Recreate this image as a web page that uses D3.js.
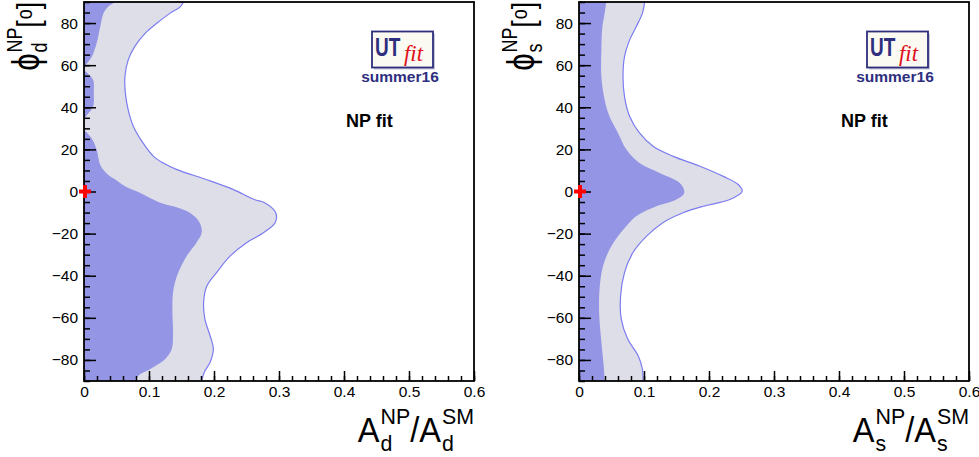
<!DOCTYPE html>
<html>
<head>
<meta charset="utf-8">
<script src="https://cdn.jsdelivr.net/npm/d3@7"></script>
<style>
body { margin: 0; background: #fff; }
text { font-family: "Liberation Sans", Arial, Helvetica, sans-serif; }
</style>
</head>
<body>
<div id="chart"></div>
<script>
// boundaries of the 68% (dark) and 95% (light) regions
// phi in degrees, A = A^NP / A^SM
const phiDarkD = [90, 87.7, 84.6, 78.3, 70.4, 64, 60.1, 58, 56, 53, 46.7, 40.4, 36.4, 34, 29.3, 27.8, 24.6, 19.9, 12, 7.2, 5.7, 2.5, -0.6, -5.3, -7, -10.1, -14.8, -19.6, -24.3, -30.6, -40.1, -48, -57.4, -66.9, -74.8, -79.5, -84.3, -87.4, -90];
const aDarkD = [0.048, 0.037, 0.030, 0.025, 0.0195, 0.012, 0.003, 0, 0.006, 0.014, 0.015, 0.014, 0.005, 0, 0, 0.005, 0.013, 0.0195, 0.026, 0.04, 0.048, 0.063, 0.086, 0.117, 0.137, 0.163, 0.178, 0.181, 0.173, 0.158, 0.143, 0.137, 0.136, 0.137, 0.135, 0.125, 0.102, 0.084, 0.08];

const phiLightD = [90, 87.7, 84.6, 79.9, 75.1, 68.8, 62.5, 54.6, 46.7, 38.8, 30.9, 23, 16.7, 13.5, 10.4, 5.6, 0.9, -3.8, -5.3, -10.1, -14.8, -19.6, -24.3, -30.6, -38.5, -44.9, -52.7, -60.6, -68.5, -74.8, -81.1, -85.8, -90];
const aLightD = [0.153, 0.148, 0.132, 0.112, 0.094, 0.078, 0.068, 0.063, 0.0636, 0.068, 0.076, 0.091, 0.107, 0.122, 0.143, 0.189, 0.23, 0.262, 0.278, 0.295, 0.294, 0.276, 0.25, 0.225, 0.204, 0.189, 0.184, 0.186, 0.194, 0.199, 0.194, 0.185, 0.181];

const phiDarkS = [90, 84.6, 78.3, 67.3, 54.6, 43.5, 35.6, 27.8, 19.9, 13.5, 8.8, 4, -0.6, -3.8, -7, -11.7, -16.4, -21.2, -27.5, -35.4, -44.9, -57.4, -70.1, -82.7, -90];
const aDarkS = [0.042, 0.0395, 0.036, 0.0344, 0.0344, 0.0395, 0.047, 0.06, 0.073, 0.093, 0.124, 0.155, 0.162, 0.15, 0.119, 0.088, 0.073, 0.06, 0.047, 0.037, 0.032, 0.031, 0.034, 0.038, 0.0395];

const phiLightS = [90, 84.6, 78.3, 72, 64, 54.6, 45.1, 35.6, 27.8, 21.5, 16.7, 12, 7.2, 3.3, 0.1, -3.8, -7, -10.1, -14.8, -21.2, -29, -38.5, -49.6, -60.6, -70.1, -78, -84.3, -90];
const aLightS = [0.101, 0.0975, 0.088, 0.078, 0.070, 0.0677, 0.070, 0.078, 0.093, 0.114, 0.145, 0.186, 0.222, 0.245, 0.251, 0.232, 0.191, 0.16, 0.129, 0.104, 0.083, 0.07, 0.064, 0.065, 0.075, 0.091, 0.0975, 0.0985];

// axis ticks
const xMajor = [0, 0.1, 0.2, 0.3, 0.4, 0.5, 0.6];
const xMinor = d3.range(0, 0.6001, 0.02);
const yMajor = [-80, -60, -40, -20, 0, 20, 40, 60, 80];
const yMinor = d3.range(-90, 90.01, 5);

// Standard Model point
const smPoint = [0, 0];

const width = 979, height = 457;
const darkFill = "#9595e6", lightFill = "#dedee8", edgeColor = "#7c7cf0", navy = "#2e2e7e";

const svg = d3.select("#chart").append("svg")
    .attr("width", width)
    .attr("height", height);

// lays out "main_sub^sup" pieces left to right, returns the group and its width
function formula(parent, pieces, size, subSize) {
    const g = parent.append("g");
    let cx = 0;
    pieces.forEach(p => {
        let w = 0;
        if (p.main) {
            const t = g.append("text").attr("x", cx).attr("y", 0)
                .style("font-size", (p.size || size) + "px").text(p.main);
            w = t.node().getComputedTextLength();
        }
        cx += w;
        let adv = 0;
        if (p.sub) {
            const s = g.append("text").attr("x", cx + 1).attr("y", subSize * 0.38)
                .style("font-size", subSize + "px").text(p.sub);
            adv = Math.max(adv, s.node().getComputedTextLength() + 1);
        }
        if (p.sup) {
            const s = g.append("text").attr("x", cx + 1).attr("y", p.supY != null ? p.supY : -size * 0.52)
                .style("font-size", subSize + "px").text(p.sup);
            adv = Math.max(adv, s.node().getComputedTextLength() + 1);
        }
        cx += adv;
    });
    return { g: g, w: cx };
}

function panel(opt) {
    const x = d3.scaleLinear().domain([0, 0.6]).range([opt.left, opt.left + 390]);
    const y = d3.scaleLinear().domain([-90, 90]).range([381, 2]);

    const clipId = "clip" + opt.key;
    svg.append("clipPath").attr("id", clipId)
        .append("rect")
        .attr("x", x(0)).attr("y", y(90))
        .attr("width", x(0.6) - x(0)).attr("height", y(-90) - y(90));

    const plot = svg.append("g").attr("clip-path", `url(#${clipId})`);

    const area = d3.area()
        .y(d => y(d[0]))
        .x0(x(0))
        .x1(d => x(d[1]))
        .curve(d3.curveCatmullRom);
    const edge = d3.line()
        .y(d => y(d[0]))
        .x(d => x(d[1]))
        .curve(d3.curveCatmullRom);

    const light = d3.zip(opt.phiLight, opt.aLight);
    const dark = d3.zip(opt.phiDark, opt.aDark);

    plot.append("path").datum(light)
        .attr("d", area)
        .attr("fill", lightFill);
    plot.append("path").datum(dark)
        .attr("d", area)
        .attr("fill", darkFill);
    plot.append("path").datum(light)
        .attr("d", edge)
        .attr("fill", "none")
        .attr("stroke", edgeColor)
        .attr("stroke-width", 1.2);

    // minor ticks first, then major ticks with labels
    svg.append("g")
        .attr("transform", `translate(0,${y(-90)})`)
        .call(d3.axisBottom(x).tickValues(xMinor).tickSize(-5).tickFormat(""))
        .call(g => g.select(".domain").remove())
        .selectAll("line").attr("stroke", "#000").attr("stroke-width", 1.5);
    svg.append("g")
        .attr("transform", `translate(0,${y(-90)})`)
        .call(d3.axisBottom(x).tickValues(xMajor).tickSize(-10).tickPadding(5)
            .tickFormat(d => d === 0 ? "0" : d3.format(".1f")(d)))
        .call(g => g.select(".domain").remove())
        .call(g => g.selectAll("line").attr("stroke", "#000").attr("stroke-width", 1.5))
        .selectAll("text").style("font-size", "15.5px").attr("fill", "#000")
            .style("font-family", '"Liberation Sans", Arial, sans-serif');

    svg.append("g")
        .attr("transform", `translate(${x(0)},0)`)
        .call(d3.axisLeft(y).tickValues(yMinor).tickSize(-6).tickFormat(""))
        .call(g => g.select(".domain").remove())
        .selectAll("line").attr("stroke", "#000").attr("stroke-width", 1.5);
    svg.append("g")
        .attr("transform", `translate(${x(0)},0)`)
        .call(d3.axisLeft(y).tickValues(yMajor).tickSize(-12).tickPadding(6))
        .call(g => g.select(".domain").remove())
        .call(g => g.selectAll("line").attr("stroke", "#000").attr("stroke-width", 1.5))
        .selectAll("text").style("font-size", "15.5px").attr("fill", "#000")
            .style("font-family", '"Liberation Sans", Arial, sans-serif');

    // frame
    svg.append("rect")
        .attr("x", x(0)).attr("y", y(90))
        .attr("width", x(0.6) - x(0)).attr("height", y(-90) - y(90))
        .attr("fill", "none")
        .attr("stroke", "#000")
        .attr("stroke-width", 1.8);

    // SM point
    const mk = svg.append("g")
        .attr("transform", `translate(${x(smPoint[0]) + 1},${y(smPoint[1])})`)
        .attr("stroke", "#ff0000")
        .attr("stroke-width", 4);
    mk.append("line").attr("x1", -6).attr("x2", 6).attr("y1", 0).attr("y2", 0);
    mk.append("line").attr("x1", 0).attr("x2", 0).attr("y1", -6.5).attr("y2", 6.5);

    // x title, right aligned to the frame
    const xt = formula(svg, [
        { main: "A", sub: opt.q, sup: "NP" },
        { main: "/A", sub: opt.q, sup: "SM" }
    ], 35, 23);
    const xs = 0.93;
    xt.g.attr("transform", `translate(${x(0.6) - xt.w * xs},442) scale(${xs},1)`);

    // y title, rotated, ending at the top of the frame
    const yg = svg.append("g");
    const yt = formula(yg, [
        { main: "\u03d5", size: 38, sub: opt.q, sup: "NP" },
        { main: "[" },
        { sup: "o", supY: -7 },
        { main: "]" }
    ], 32, 22);
    const ys = 0.82;
    yg.attr("transform", `translate(${opt.left - 45},${2 + yt.w * ys}) rotate(-90) scale(${ys},1)`);

    // logo
    const lx = opt.left + 288;
    svg.append("rect")
        .attr("x", lx + 2).attr("y", 33.5)
        .attr("width", 61).attr("height", 36)
        .attr("fill", "#c8c8d8");
    svg.append("rect")
        .attr("x", lx).attr("y", 31.5)
        .attr("width", 61).attr("height", 36)
        .attr("fill", "#fbfaf2")
        .attr("stroke", navy)
        .attr("stroke-width", 1.8);
    svg.append("text")
        .attr("transform", `translate(${lx + 3},56) scale(0.76,1)`)
        .style("font-size", "25px").style("font-weight", "bold")
        .attr("fill", navy).text("UT");
    svg.append("text")
        .attr("transform", `translate(${lx + 32},61) scale(0.95,1)`)
        .style("font-size", "24px").style("font-style", "italic")
        .style("font-family", '"Liberation Serif", "DejaVu Serif", serif')
        .attr("fill", "#e0101a").text("fit");
    svg.append("text")
        .attr("x", lx + 28).attr("y", 81.5)
        .attr("text-anchor", "middle")
        .style("font-size", "15.5px").style("font-weight", "bold")
        .attr("fill", navy).text("summer16");

    svg.append("text")
        .attr("x", opt.left + 262).attr("y", 127)
        .style("font-size", "18px").style("font-weight", "bold")
        .attr("fill", "#000").text("NP fit");
}

panel({ key: "d", q: "d", left: 84, phiDark: phiDarkD, aDark: aDarkD, phiLight: phiLightD, aLight: aLightD });
panel({ key: "s", q: "s", left: 579, phiDark: phiDarkS, aDark: aDarkS, phiLight: phiLightS, aLight: aLightS });
</script>
</body>
</html>
